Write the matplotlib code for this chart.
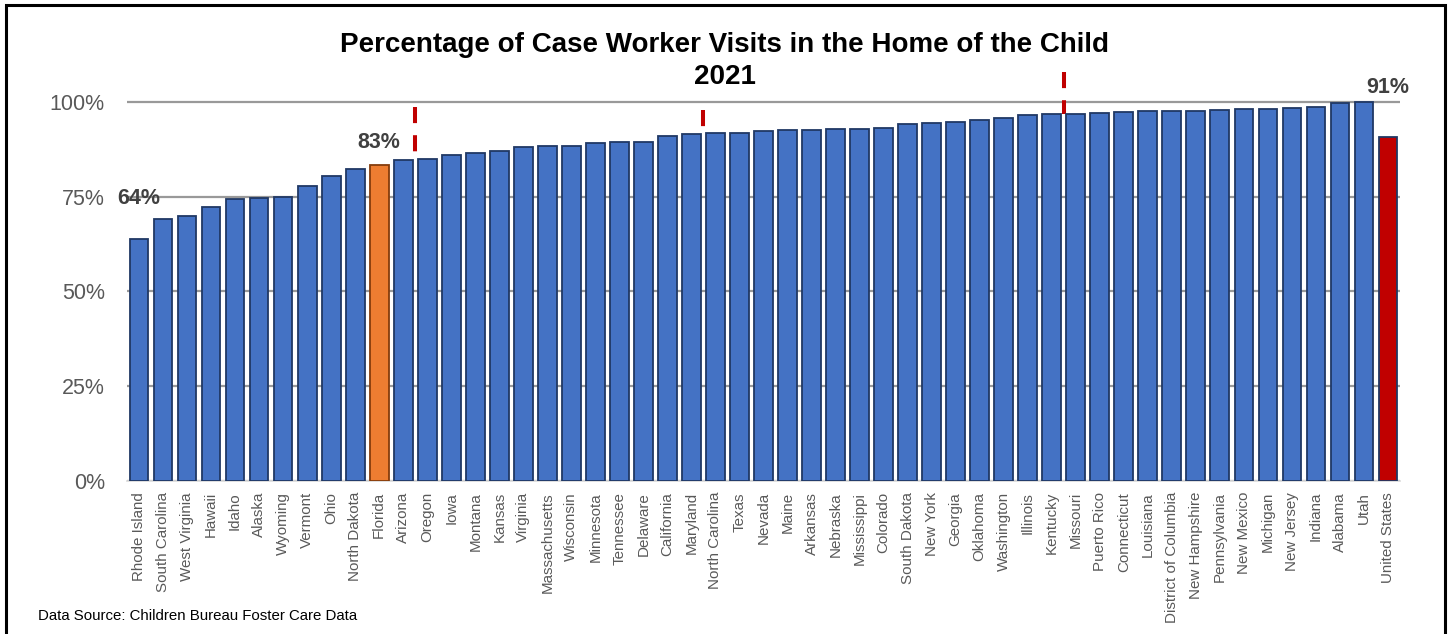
import matplotlib
matplotlib.use('Agg')
import matplotlib.pyplot as plt
import matplotlib.patches as patches
from matplotlib.ticker import FuncFormatter

plt.rcParams['font.family'] = ['Liberation Sans', 'DejaVu Sans']

# Данные
states = ['Rhode Island', 'South Carolina', 'West Virginia', 'Hawaii', 'Idaho', 'Alaska',
          'Wyoming', 'Vermont', 'Ohio', 'North Dakota', 'Florida', 'Arizona', 'Oregon',
          'Iowa', 'Montana', 'Kansas', 'Virginia', 'Massachusetts', 'Wisconsin',
          'Minnesota', 'Tennessee', 'Delaware', 'California', 'Maryland',
          'North Carolina', 'Texas', 'Nevada', 'Maine', 'Arkansas', 'Nebraska',
          'Mississippi', 'Colorado', 'South Dakota', 'New York', 'Georgia', 'Oklahoma',
          'Washington', 'Illinois', 'Kentucky', 'Missouri', 'Puerto Rico', 'Connecticut',
          'Louisiana', 'District of Columbia', 'New Hampshire', 'Pennsylvania',
          'New Mexico', 'Michigan', 'New Jersey', 'Indiana', 'Alabama', 'Utah',
          'United States']
values = [63.8, 69.0, 69.9, 72.4, 74.4, 74.6, 74.8, 77.9, 80.5, 82.3, 83.4, 84.7, 84.9,
          86.0, 86.4, 87.1, 88.0, 88.4, 88.4, 89.2, 89.4, 89.5, 90.9, 91.6, 91.9,
          91.9, 92.3, 92.5, 92.7, 92.8, 92.9, 93.1, 94.1, 94.5, 94.6, 95.2, 95.7, 96.6,
          96.8, 96.8, 97.1, 97.4, 97.5, 97.5, 97.5, 97.9, 98.2, 98.2, 98.3, 98.7, 99.7,
          99.9, 90.7]
labeled = ['Rhode Island', 'Florida', 'United States']
marker_after = ['Arizona', 'Maryland', 'Kentucky']
marker_tops = [98.7, 97.9, 107.9]
yticks = [0, 25, 50, 75, 100]

title1 = 'Percentage of Case Worker Visits in the Home of the Child'
title2 = '2021'
source = 'Data Source: Children Bureau Foster Care Data'

# Цвета
fill = ['#4472C4'] * len(states)
edge = ['#203864'] * len(states)
fill[states.index('Florida')] = '#ED7D31'
edge[states.index('Florida')] = '#843C0C'
fill[states.index('United States')] = '#C00000'

fig = plt.figure(figsize=(14.5, 6.34), dpi=100)
ax = fig.add_axes([127 / 1450, 1 - 481 / 634, 1273 / 1450, 417 / 634])

x = range(len(states))
ax.bar(x, values, width=0.78, color=fill, edgecolor=edge, linewidth=1.3, zorder=3)

# Красные пунктирные отметки (только над столбцами)
for name, top in zip(marker_after, marker_tops):
    i = states.index(name)
    low = max(values[i], values[i + 1])
    ax.plot([i + 0.5, i + 0.5], [top, low], color='#C00000', lw=2.9,
            linestyle=(0, (4, 3)), zorder=2, clip_on=False)

# Подписи значений
offsets = {'Rhode Island': 25, 'Florida': 12, 'United States': 32}
for name in labeled:
    i = states.index(name)
    ax.annotate(f'{values[i]:.0f}%', (i, values[i]), xytext=(0, offsets[name]),
                textcoords='offset points', ha='center', va='baseline',
                fontsize=15.5, fontweight='bold', color='#404040', annotation_clip=False)

ax.set_xlim(-0.5, len(states) - 0.5)
ax.set_ylim(0, 110)
ax.set_yticks(yticks)
ax.yaxis.set_major_formatter(FuncFormatter(lambda v, p: f'{v:.0f}%'))
ax.set_xticks(list(x))
ax.set_xticklabels(states, rotation=90, fontsize=10.9, color='#595959')
ax.tick_params(axis='x', length=0, pad=8)
ax.tick_params(axis='y', length=0, pad=16, labelsize=15.5, labelcolor='#595959')

ax.grid(axis='y', color='#999999', lw=1.6, zorder=0)
for s in ['top', 'right', 'left']:
    ax.spines[s].set_visible(False)
ax.spines['bottom'].set_color('#D9D9D9')
ax.spines['bottom'].set_linewidth(1.2)

# Заголовок и источник
fig.text(0.5, 1 - 52 / 634, title1, ha='center', va='baseline', fontsize=20,
         fontweight='bold', color='black')
fig.text(0.5, 1 - 84 / 634, title2, ha='center', va='baseline', fontsize=20,
         fontweight='bold', color='black')
fig.text(38 / 1450, 1 - 620 / 634, source, ha='left', va='baseline', fontsize=10.8,
         color='black')

# Рамка
fig.patches.append(patches.Rectangle((5.5 / 1450, -0.02), 1439.5 / 1450, 1.02 - 5.5 / 634,
                                     transform=fig.transFigure, fill=False,
                                     edgecolor='black', lw=2.2))

plt.savefig('out.png', dpi=100, facecolor='white')
plt.close()
